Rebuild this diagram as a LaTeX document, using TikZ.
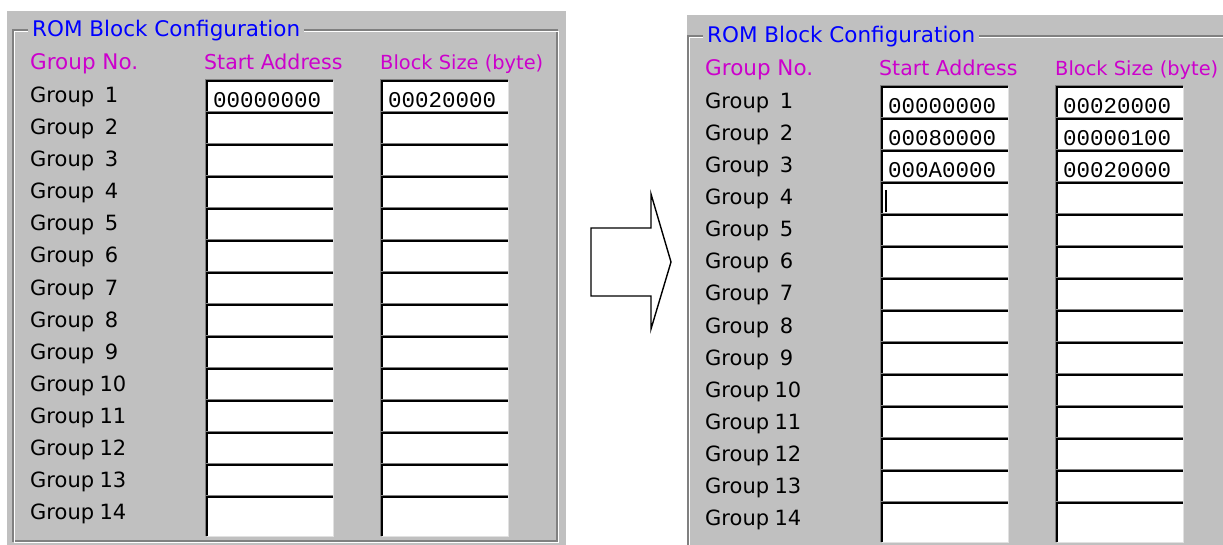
\documentclass[tikz,border=0pt]{standalone}
\usepackage{fontspec}
\setmainfont{DejaVu Sans}
\newfontfamily\fieldfont{Liberation Mono}
\usetikzlibrary{positioning}

\definecolor{panelgray}{RGB}{192,192,192}
\definecolor{etchdark}{RGB}{128,128,128}
\definecolor{titleblue}{RGB}{0,0,255}
\definecolor{headmagenta}{RGB}{204,0,204}
\definecolor{boxlight}{RGB}{225,225,225}

\tikzset{
  grouplabel/.style={anchor=base west, inner sep=0pt, font=\fontsize{21}{25}\selectfont},
  header/.style={anchor=base west, inner sep=0pt, text=headmagenta, font=\fontsize{20.5}{25}\selectfont},
  paneltitle/.style={anchor=base west, inner xsep=4pt, inner ysep=1pt, fill=panelgray,
    text=titleblue, font=\fontsize{21.5}{25}\selectfont},
  entry/.style={anchor=north west, fill=white, text width=114pt, align=left,
    inner xsep=6pt, inner ysep=0pt, text height=20pt, text depth=0pt,
    font=\fieldfont\fontsize{22.5}{25}\selectfont},
  sunkdark/.style={line width=2pt, black},
  sunkgray/.style={line width=1pt, etchdark},
  sunklight/.style={line width=1.5pt, boxlight},
  etched/.style={line width=1.2pt, etchdark},
  blockarrow/.style={draw=black, fill=white, line width=1.4pt, line join=miter}
}

% one "ROM Block Configuration" group box; #1 = name prefix, #2 = rows
\newcommand{\rompanel}[2]{%
  \draw[etched] (13,30) rectangle (557,541);
  \draw[line width=1.2pt, white] (14.5,31.5) rectangle (558.5,542.5);
  \node[paneltitle] (#1-title) at (28,37) {ROM Block Configuration};
  \node[header, font=\fontsize{21.5}{25}\selectfont] (#1-hgrp) at (30,70) {Group No.};
  \node[header] (#1-hsa) at (204,70) {Start Address};
  \node[header, font=\fontsize{19.4}{25}\selectfont] (#1-hbs) at (380,70) {Block Size (byte)};
  \foreach \r/\sa/\bs in {#2} {
    \pgfmathsetmacro{\rowh}{ifthenelse(\r==14,39,32)}
    \pgfmathsetmacro{\gapw}{ifthenelse(\r>9,3.3,3.55)}
    \node[grouplabel] (#1-g\r) at (30,{103+32*(\r-1)}) {\makebox[\gapw em][l]{Group}\r};
    \node[entry, minimum height=\rowh pt] (#1-sa\r) at (207,{81+32*(\r-1)}) {\sa};
    \node[entry, minimum height=\rowh pt] (#1-bs\r) at (382,{81+32*(\r-1)}) {\bs};
    \foreach \c in {sa,bs} {
      \draw[sunklight] (#1-\c\r.north east) -- (#1-\c\r.south east) -- (#1-\c\r.south west);
      \draw[sunkgray] ([xshift=-1.5pt]#1-\c\r.south west) -- ([xshift=-1.5pt, yshift=1.5pt]#1-\c\r.north west)
        -- ([yshift=1.5pt]#1-\c\r.north east);
      \draw[sunkdark] (#1-\c\r.south west) -- (#1-\c\r.north west) -- (#1-\c\r.north east);
    }
  }
}

\begin{document}
\begin{tikzpicture}[x=1pt, y=-1pt]
  \useasboundingbox (0,0) rectangle (1223,545);

  % dialog backgrounds
  \fill[panelgray] (7,11) rectangle (566,545);
  \fill[panelgray] (687,15) rectangle (1223,545);

  % before
  \rompanel{L}{1/00000000/00020000, 2//, 3//, 4//, 5//, 6//, 7//,
    8//, 9//, 10//, 11//, 12//, 13//, 14//}

  % after
  \begin{scope}
    \clip (0,0) rectangle (1223,545);
    \begin{scope}[shift={(675,6)}]
      \rompanel{R}{1/00000000/00020000, 2/00080000/00000100, 3/000A0000/00020000,
        4//, 5//, 6//, 7//, 8//, 9//, 10//, 11//, 12//, 13//, 14//}
      % text cursor
      \draw[line width=1.2pt] ([xshift=4pt, yshift=-7pt]R-sa4.north west) -- ++(0,22);
    \end{scope}
  \end{scope}

  % block arrow
  \draw[blockarrow] (591,228) -- (651,228) -- (651,194) -- (671,262)
    -- (651,329) -- (651,296) -- (591,296) -- cycle;
\end{tikzpicture}
\end{document}
